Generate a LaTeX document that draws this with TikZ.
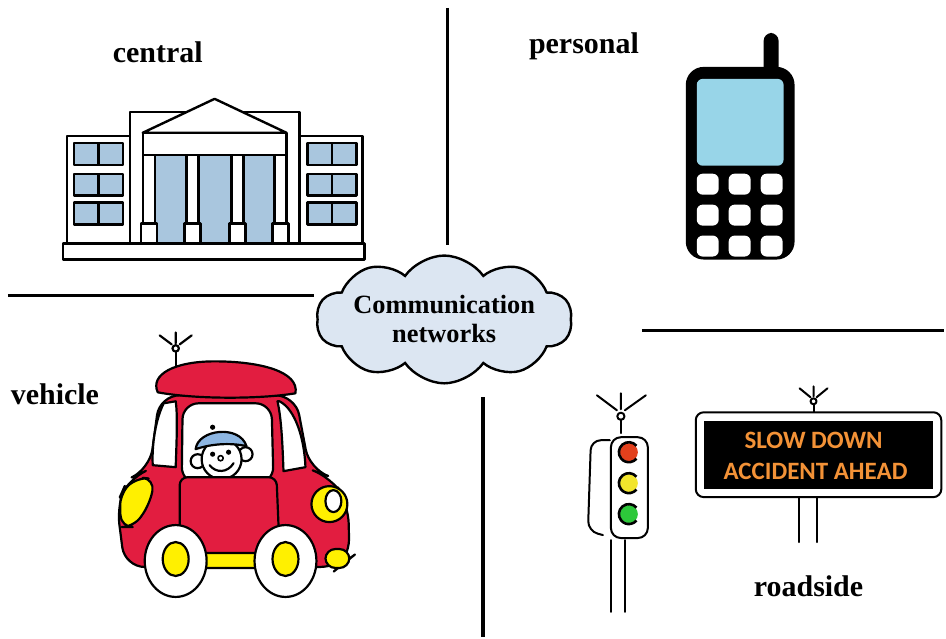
\documentclass[tikz,border=0pt]{standalone}
\usepackage{fontspec}
\setmainfont{Liberation Serif}
\newfontfamily\signfont{Carlito}
\usetikzlibrary{shapes.symbols}
\definecolor{ink}{HTML}{000000}
\definecolor{cloudfill}{HTML}{DCE6F2}
\definecolor{glass}{HTML}{A9C6DE}
\definecolor{screen}{HTML}{98D5E8}
\definecolor{carred}{HTML}{E21D40}
\definecolor{caryellow}{HTML}{FFF000}
\definecolor{capblue}{HTML}{8DB6E2}
\definecolor{signorange}{HTML}{F39237}
\definecolor{lampred}{HTML}{E2401C}
\definecolor{lampyellow}{HTML}{F2E52C}
\definecolor{lampgreen}{HTML}{2DC83A}
\tikzset{
  divider/.style={draw=ink, line width=1.7pt},
  outline/.style={draw=ink, line width=1.2pt, line join=round},
  carpart/.style={draw=ink, line width=1.1pt, line join=round, line cap=round},
  sketch/.style={draw=ink, line width=1pt, line cap=round, line join=round},
  lab/.style={font=\fontsize{15}{17}\selectfont\bfseries, inner sep=0pt},
  signtext/.style={text=signorange, font=\signfont\fontsize{12.5}{14}\selectfont\bfseries, inner sep=0pt},
  cloudnet/.style={cloud, cloud puffs=10, cloud puff arc=110, cloud ignores aspect,
    draw=ink, line width=1.2pt, fill=cloudfill, minimum width=128pt, minimum height=64pt,
    align=center, inner sep=0pt, font=\fontsize{13.2}{14.5}\selectfont\bfseries}
}
\begin{document}
\begin{tikzpicture}[x=0.5pt, y=-0.5pt]
  \fill[white] (0,0) rectangle (946,638);

  % quadrant dividers
  \draw[divider] (448,8) -- (448,245);
  \draw[divider] (8,296) -- (315,296);
  \draw[divider] (643,331) -- (946,331);
  \draw[divider] (484,398) -- (484,638);

  \node[lab] (central) at (158,52) {central};
  \node[lab] (personal) at (585,46) {personal};
  \node[lab] (vehicle) at (55,395) {vehicle};
  \node[lab] (roadside) at (810,587) {roadside};

  % building
  \draw[outline, fill=white] (130,112) rectangle (300,244);
  \draw[outline, fill=white] (67,136) rectangle (130,244);
  \draw[outline, fill=white] (300,136) rectangle (363,244);
  \fill[glass] (156,155) rectangle (275,244);
  \foreach \wy in {143,174,203}
    \foreach \wx in {74,308} {
      \draw[outline, fill=glass] (\wx,\wy) rectangle ++(49,22);
      \draw[outline] (\wx+24.5,\wy) -- ++(0,22);
    }
  \draw[outline, fill=white] (143,133) -- (215,99) -- (287,133) -- cycle;
  \draw[outline, fill=white] (143,133) rectangle (287,155);
  \foreach \cx in {143,187,232,275} {
    \draw[outline, fill=white] (\cx,155) rectangle ++(12,69);
    \draw[outline, fill=white] (\cx-2,224) rectangle ++(16,23);
  }
  \draw[outline, fill=white] (63,244) rectangle (365,260);

  % phone
  \fill[ink, rounded corners=4pt] (765,33) rectangle (780,80);
  \fill[ink, rounded corners=9pt] (687,67) rectangle (796,260);
  \fill[screen, rounded corners=3pt] (698,79) rectangle (785,166);
  \foreach \kx in {698,730,762}
    \foreach \ky in {174,205,236}
      \fill[white, rounded corners=3pt] (\kx,\ky) rectangle ++(22,21);

  \node[cloudnet] (net) at (445,320) {Communication\\networks};

  % car
  \draw[carpart] (176,368) -- (176,352);
  \draw[carpart] (176,349) circle (1.6pt);
  \draw[carpart] (172,345) -- (160,336) (176,344) -- (176,333) (180,345) -- (192,336);
  \draw[carpart, fill=carred, rounded corners=10pt] (125,568) -- (117,505) -- (128,480)
    -- (150,470) -- (160,396) -- (296,396) -- (310,470) -- (332,478) -- (349,505)
    -- (350,560) -- (340,568) -- cycle;
  \draw[carpart, fill=carred] (158,393) .. controls (150,375) and (175,362) .. (215,362)
    .. controls (260,362) and (300,372) .. (296,394)
    .. controls (260,400) and (195,400) .. cycle;
  \draw[carpart, fill=white] (164,404) .. controls (156,420) and (152,445) .. (153,466)
    -- (176,468) .. controls (177,440) and (178,415) .. (176,402) -- cycle;
  \draw[carpart, fill=white] (280,402) .. controls (296,410) and (305,440) .. (306,468)
    -- (284,472) .. controls (283,445) and (282,420) .. (278,402) -- cycle;
  \draw[carpart, fill=white, rounded corners=8pt] (182,484) -- (183,404) -- (272,404) -- (274,484) -- cycle;
  % driver
  \draw[carpart, fill=white] (198,462) circle (3.5pt);
  \draw[carpart, fill=white] (246,455) circle (3.5pt);
  \draw[carpart, fill=white] (222,460) circle (10pt);
  \draw[carpart, fill=capblue] (196,450) .. controls (198,430) and (240,425) .. (247,447)
    .. controls (230,443) and (210,445) .. cycle;
  \fill[ink] (213,428) circle (1.3pt);
  \fill[ink] (213,455) circle (1.3pt);
  \fill[ink] (229,453) circle (1.3pt);
  \draw[carpart, line width=0.8pt] (221,459) circle (1.3pt);
  \draw[carpart] (210,466) .. controls (216,474) and (228,474) .. (234,464);
  \draw[carpart, fill=carred, rounded corners=4pt] (180,526) -- (180,478) -- (277,478) -- (279,526);
  \draw[carpart, fill=caryellow, rounded corners=6pt] (121,528) -- (120,495) -- (137,478)
    -- (155,480) -- (150,505) -- (134,528) -- cycle;
  \draw[carpart, fill=caryellow] (330,505) circle (9pt);
  \draw[carpart, fill=white] (334,502) ellipse (4pt and 5.5pt);
  \draw[carpart, fill=caryellow, rounded corners=5pt] (326,550) rectangle (350,569);
  \draw[carpart, fill=caryellow, rounded corners=3pt] (200,554) rectangle (262,569);
  \foreach \hx in {176,286} {
    \draw[carpart, fill=white] (\hx,562) ellipse (15.5pt and 18pt);
    \draw[carpart, fill=caryellow] (\hx,560) ellipse (6.5pt and 8.5pt);
  }

  % traffic light
  \draw[sketch] (622,434) -- (622,420);
  \draw[sketch] (622,417) circle (1.8pt);
  \draw[sketch] (618,411) -- (598,396) (622,410) -- (622,394) (626,411) -- (647,396);
  \draw[sketch, rounded corners=5pt] (612,438) rectangle (649,539);
  \draw[sketch, rounded corners=5pt] (611,441) -- (592,441) -- (589,532) -- (604,536);
  \foreach \ly/\lc in {453/lampred, 484/lampyellow, 515/lampgreen} {
    \fill[\lc] (630,\ly) circle (4.5pt);
    \draw[ink, line width=1.3pt] (630,\ly) ++(40:5pt) arc[start angle=40, end angle=320, radius=5pt];
  }
  \draw[sketch] (612,541) -- (612,613) (626,541) -- (626,613);

  % road sign
  \draw[sketch] (815,413) -- (815,405);
  \draw[sketch] (815,402) circle (1.5pt);
  \draw[sketch] (812,398) -- (801,389) (815,397) -- (815,387) (818,398) -- (829,389);
  \draw[outline, line width=1pt, fill=white, rounded corners=4pt] (697,413) rectangle (943,498);
  \fill[ink] (705,422) rectangle (935,490);
  \node[signtext] (slow) at (815,441) {SLOW DOWN};
  \node[signtext] (ahead) at (817,472) {ACCIDENT AHEAD};
  \draw[sketch] (800,498) -- (800,543) (818,498) -- (818,543);
\end{tikzpicture}
\end{document}
